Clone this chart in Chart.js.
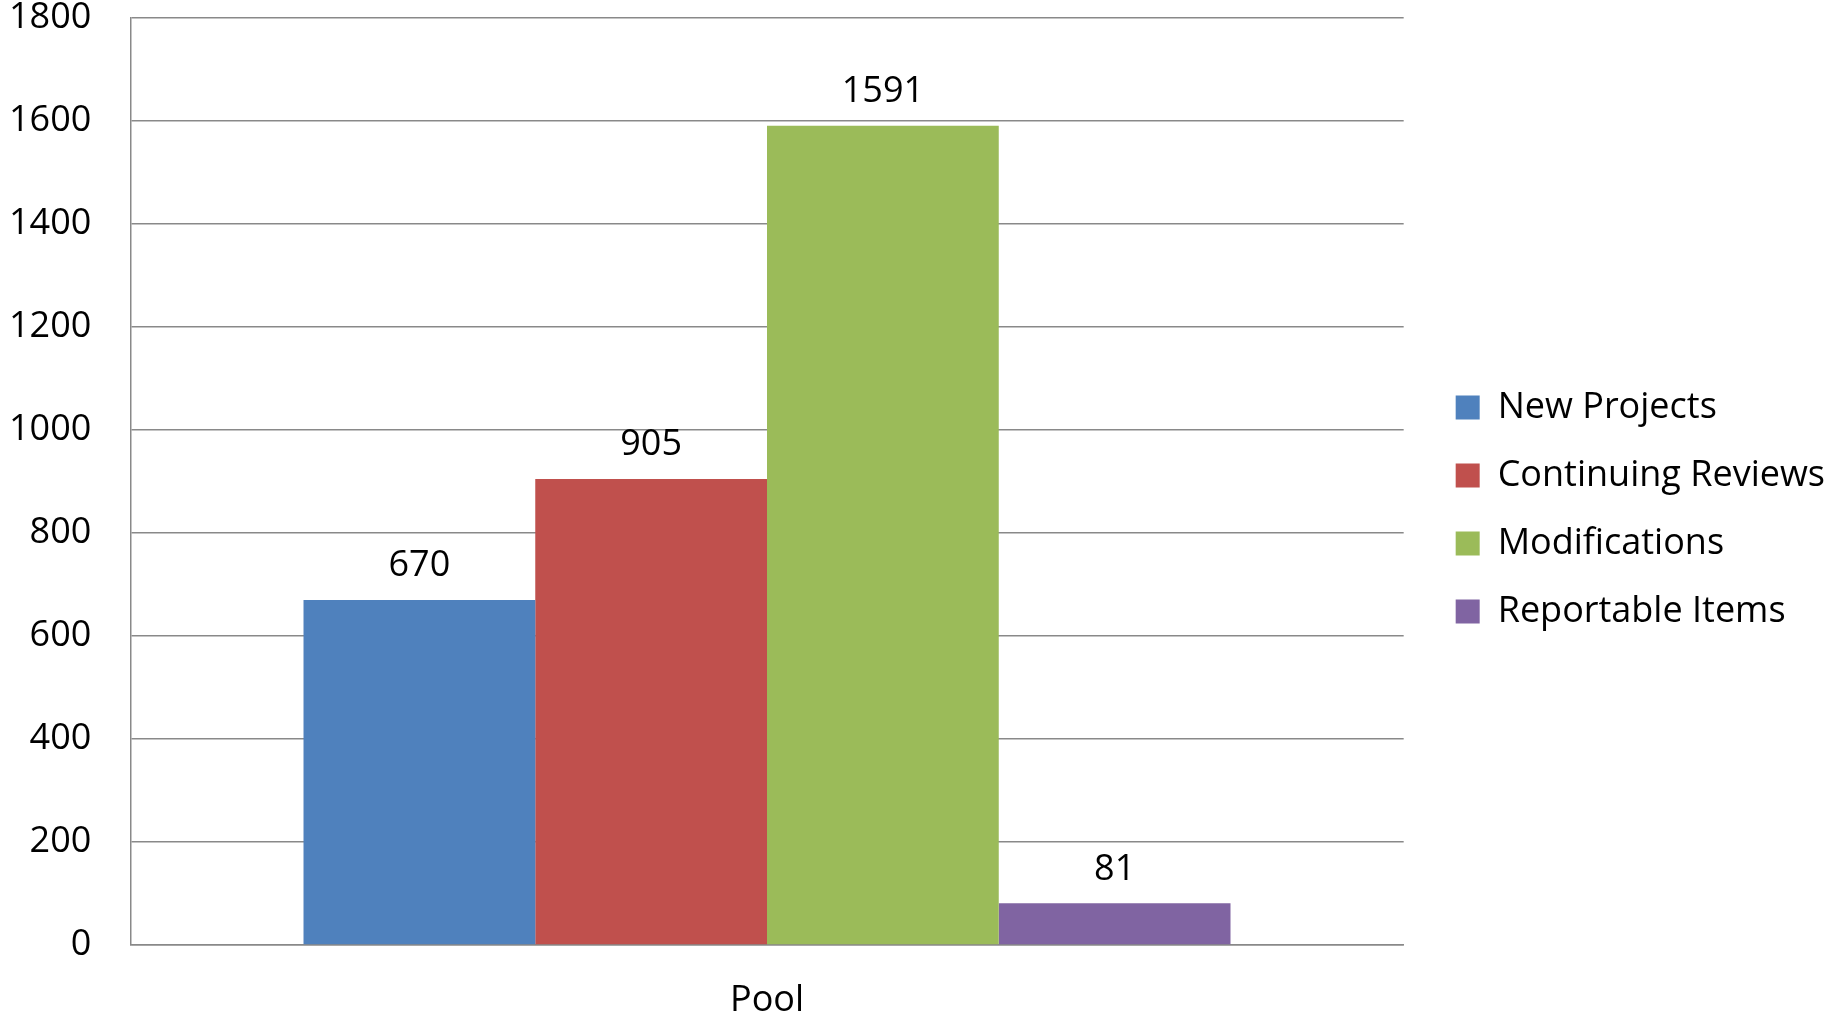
<!DOCTYPE html>
<html>
<head>
<meta charset="utf-8">
<script src="https://cdn.jsdelivr.net/npm/chart.js@4/dist/chart.umd.min.js"></script>
<style>
html,body{margin:0;padding:0;background:#fff;}
#wrap{width:1831px;height:1019px;position:relative;}
</style>
</head>
<body>
<div id="wrap"><canvas id="c" width="1831" height="1019"></canvas></div>
<script>
const categories = ['Pool'];
const seriesNames = ['New Projects', 'Continuing Reviews', 'Modifications', 'Reportable Items'];
const newProjects = [670];
const continuingReviews = [905];
const modifications = [1591];
const reportableItems = [81];
const seriesColors = ['#4F81BD', '#C0504D', '#9BBB59', '#8064A2'];
const yTicks = [0, 200, 400, 600, 800, 1000, 1200, 1400, 1600, 1800];

const FONT = "'Open Sans', 'Liberation Sans', sans-serif";
const values = [newProjects, continuingReviews, modifications, reportableItems];

const valueLabels = {
  id: 'valueLabels',
  afterDatasetsDraw(chart) {
    const ctx = chart.ctx;
    ctx.save();
    ctx.font = "36px " + FONT;
    ctx.fillStyle = '#000';
    ctx.textAlign = 'center';
    ctx.textBaseline = 'middle';
    chart.data.datasets.forEach((ds, i) => {
      const meta = chart.getDatasetMeta(i);
      meta.data.forEach((el, j) => {
        ctx.fillText(String(ds.data[j]), el.x, el.y - 34);
      });
    });
    ctx.restore();
  }
};

new Chart(document.getElementById('c'), {
  type: 'bar',
  data: {
    labels: categories,
    datasets: seriesNames.map((n, i) => ({
      label: n,
      data: values[i],
      backgroundColor: seriesColors[i],
      borderWidth: 0,
      categoryPercentage: 0.728,
      barPercentage: 1.0
    }))
  },
  options: {
    responsive: false,
    animation: false,
    layout: { padding: { left: -30, top: 0, right: -4, bottom: 0 } },
    plugins: {
      legend: {
        position: 'right',
        maxWidth: 600,
        labels: {
          boxWidth: 24,
          boxHeight: 24,
          padding: 32,
          color: '#000',
          font: { family: FONT, size: 36 }
        }
      },
      tooltip: { enabled: false }
    },
    scales: {
      x: {
        grid: { display: false, drawTicks: false },
        border: { color: '#898989', width: 1.5 },
        ticks: { color: '#000', padding: 34, font: { family: FONT, size: 36 } },
        afterFit(scale) { scale.height = 74; }
      },
      y: {
        min: 0,
        max: 1800,
        afterBuildTicks(scale) { scale.ticks = yTicks.map(v => ({ value: v })); },
        afterFit(scale) { scale.paddingTop = 18; scale.paddingBottom = 18; },
        grid: { color: '#898989', lineWidth: 1.5, drawTicks: false },
        border: { color: '#898989', width: 1.5 },
        ticks: {
          color: '#000', padding: 39, font: { family: FONT, size: 36 },
          callback: (v) => String(v)
        }
      },
      gap: {
        type: 'linear',
        position: 'right',
        display: true,
        grid: { display: false, drawTicks: false },
        border: { display: false },
        ticks: { display: false },
        afterFit(scale) { scale.width = 20; scale.paddingTop = 0; scale.paddingBottom = 0; }
      }
    }
  },
  plugins: [valueLabels]
});
</script>
</body>
</html>
